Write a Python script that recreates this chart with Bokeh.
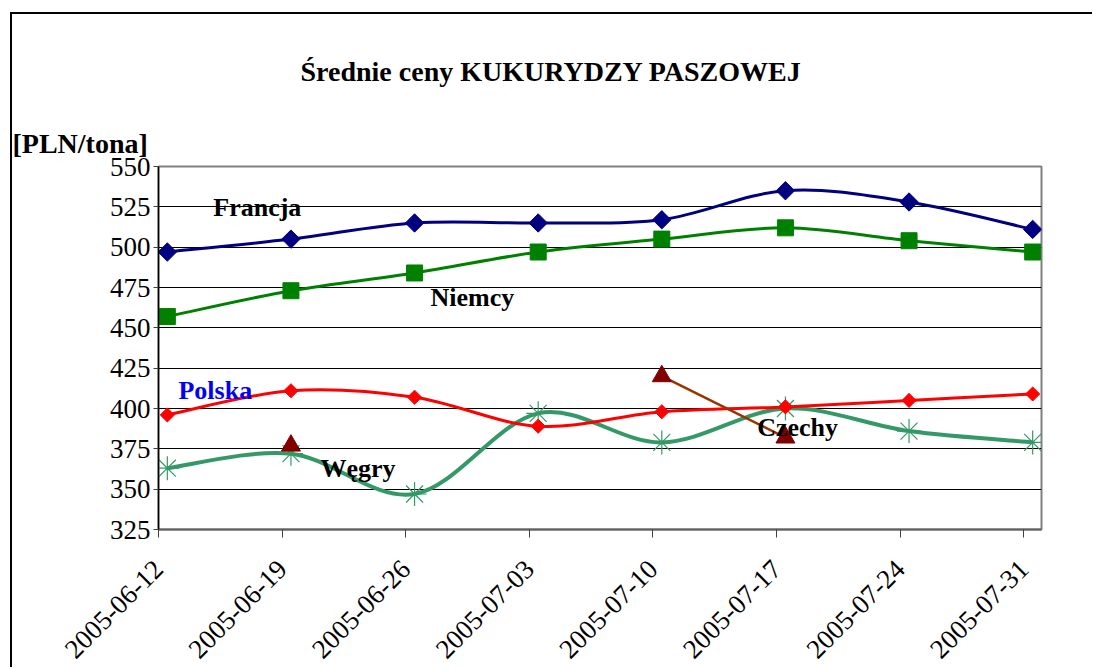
import math
from datetime import datetime
from bokeh.plotting import figure
from bokeh.models import FixedTicker, DatetimeTickFormatter, Range1d, Label, Title
from bokeh.embed import file_html
from bokeh.resources import INLINE

# ---- data ----
dates = ["2005-06-12", "2005-06-19", "2005-06-26", "2005-07-03",
         "2005-07-10", "2005-07-17", "2005-07-24", "2005-07-31"]
francja = [497, 505, 515, 515, 517, 535, 528, 511]
niemcy = [457, 473, 484, 497, 505, 512, 504, 497]
polska = [396, 411, 407, 389, 398, 401, 405, 409]
wegry = [363, 372, 347, 397, 379, 400, 386, 379]
czechy = [None, 377, None, None, 420, 382, None, None]
y_ticks = [325, 350, 375, 400, 425, 450, 475, 500, 525, 550]

EPOCH = datetime(1970, 1, 1)
DAY = 86400000.0


def ms(d):
    return (d - EPOCH).total_seconds() * 1000.0


tick_ms = [ms(datetime.strptime(d, "%Y-%m-%d")) for d in dates]
# Excel date axis: points sit in the middle of their day slot
point_ms = [t + DAY / 2 for t in tick_ms]
x_start = tick_ms[0]
x_end = tick_ms[-1] + DAY

FONT = "Liberation Serif"

p = figure(width=1082, height=655, output_backend="svg", toolbar_location=None,
           x_axis_type="datetime",
           x_range=Range1d(x_start, x_end), y_range=Range1d(325, 550),
           min_border_left=146, min_border_right=53, min_border_top=152,
           min_border_bottom=140)
p.margin = (12, 0, 0, 10)
p.styles = {"border-left": "2px solid black", "border-top": "2px solid black"}
p.background_fill_color = "white"
p.border_fill_color = "white"
p.outline_line_color = "#808080"
p.outline_line_width = 2

# titles (first added = closest to the frame)
p.add_layout(Title(text="[PLN/tona]", align="left", offset=-146,
                   text_font=FONT, text_font_size="28px", text_font_style="bold",
                   text_color="black", standoff=15), "above")
p.add_layout(Title(text="Średnie ceny KUKURYDZY PASZOWEJ", align="left", offset=142,
                   text_font=FONT, text_font_size="28px", text_font_style="bold",
                   text_color="black", standoff=64), "above")

# axes
p.xaxis.ticker = FixedTicker(ticks=tick_ms)
p.xaxis.formatter = DatetimeTickFormatter(days="%Y-%m-%d", months="%Y-%m-%d",
                                          years="%Y-%m-%d", hours="%Y-%m-%d")
p.xaxis.major_label_orientation = math.pi / 4
p.xaxis.major_label_text_font = FONT
p.xaxis.major_label_text_font_size = "27px"
p.xaxis.major_label_text_color = "black"
p.xaxis.axis_line_color = "#606060"
p.xaxis.axis_line_width = 2
p.xaxis.major_tick_line_color = "#404040"
p.xaxis.major_tick_out = 8
p.xaxis.major_tick_in = 0
p.xaxis.minor_tick_line_color = None
p.xaxis.major_label_standoff = 27

p.yaxis.ticker = FixedTicker(ticks=y_ticks)
p.yaxis.major_label_text_font = FONT
p.yaxis.major_label_text_font_size = "27px"
p.yaxis.major_label_text_color = "black"
p.yaxis.axis_line_color = "black"
p.yaxis.axis_line_width = 1.5
p.yaxis.major_tick_line_color = "#404040"
p.yaxis.major_tick_out = 5
p.yaxis.major_tick_in = 0
p.yaxis.minor_tick_line_color = None
p.yaxis.major_label_standoff = 3

p.xgrid.grid_line_color = None
p.ygrid.grid_line_color = "black"
p.ygrid.grid_line_width = 1


def runs(xs, ys):
    out, cur = [], []
    for x, y in zip(xs, ys):
        if y is None:
            if cur:
                out.append(cur)
            cur = []
        else:
            cur.append((x, y))
    if cur:
        out.append(cur)
    return out


def smooth(xs, ys, color, width):
    seg = {k: [] for k in ("x0", "y0", "x1", "y1", "cx0", "cy0", "cx1", "cy1")}
    for run in runs(xs, ys):
        n = len(run)
        for i in range(n - 1):
            p0 = run[i - 1] if i > 0 else run[i]
            p1 = run[i]
            p2 = run[i + 1]
            p3 = run[i + 2] if i + 2 < n else run[i + 1]
            seg["x0"].append(p1[0]); seg["y0"].append(p1[1])
            seg["x1"].append(p2[0]); seg["y1"].append(p2[1])
            seg["cx0"].append(p1[0] + (p2[0] - p0[0]) / 6)
            seg["cy0"].append(p1[1] + (p2[1] - p0[1]) / 6)
            seg["cx1"].append(p2[0] - (p3[0] - p1[0]) / 6)
            seg["cy1"].append(p2[1] - (p3[1] - p1[1]) / 6)
    if seg["x0"]:
        p.bezier(line_color=color, line_width=width, **seg)


def present(xs, ys):
    pts = [(x, y) for x, y in zip(xs, ys) if y is not None]
    return [a for a, _ in pts], [b for _, b in pts]


# Francja
smooth(point_ms, francja, "#000080", 3)
p.scatter(point_ms, francja, marker="square", angle=math.pi / 4, size=13,
          fill_color="#000080", line_color="#000080")
# Niemcy
smooth(point_ms, niemcy, "#008000", 3)
p.scatter(point_ms, niemcy, marker="square", size=16, fill_color="#008000",
          line_color="#008000")
# Węgry
smooth(point_ms, wegry, "#339966", 4)
p.scatter(point_ms, wegry, marker="asterisk", size=24, line_color="#339966",
          line_width=1.2)
# Polska
smooth(point_ms, polska, "#FF0000", 3)
p.scatter(point_ms, polska, marker="square", angle=math.pi / 4, size=10,
          fill_color="#FF0000", line_color="#FF0000")
# Czechy
smooth(point_ms, czechy, "#993300", 2.5)
cx, cy = present(point_ms, czechy)
p.scatter(cx, cy, marker="triangle", size=19, fill_color="#800000",
          line_color="#800000")


def lab(text, day_off, yv, color="black", size="26px"):
    p.add_layout(Label(x=x_start + day_off * DAY, y=yv, text=text,
                       text_font=FONT, text_font_size=size,
                       text_font_style="bold", text_color=color,
                       text_align="left", text_baseline="alphabetic"))


lab("Francja", 3.1, 524.5)
lab("Niemcy", 15.4, 469)
lab("Polska", 1.13, 411, color="#0000FF")
lab("Węgry", 9.17, 363)
lab("Czechy", 33.9, 388.5)

open("out.html", "w").write(file_html(p, INLINE))
